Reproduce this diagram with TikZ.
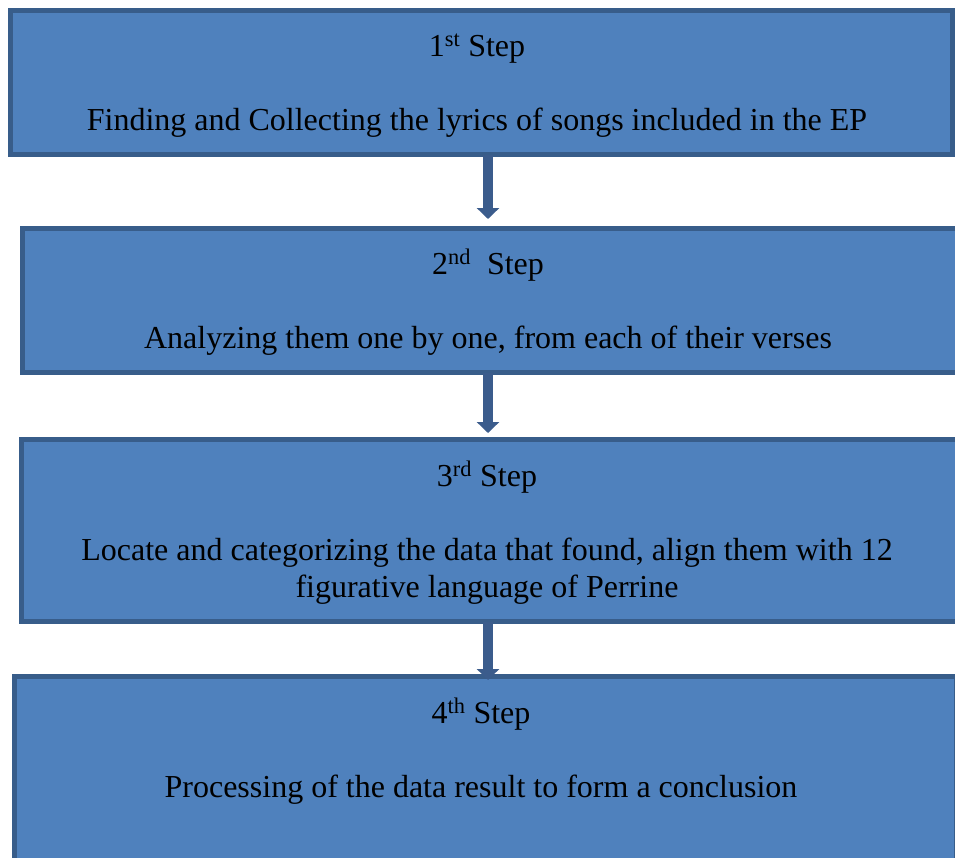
\documentclass[tikz,border=0pt]{standalone}
\usepackage{fontspec}
\setmainfont{Liberation Serif}
\usepackage{tikz}
\usetikzlibrary{arrows.meta, positioning}
\usepackage{xcolor}
\definecolor{stepfill}{HTML}{4F81BD}
\definecolor{stepborder}{HTML}{385D8A}
\definecolor{arrowblue}{HTML}{3B5C8C}

\begin{document}
\begin{tikzpicture}[
			x=1pt, y=-1pt,
			every node/.style={font=\fontsize{32}{37}\selectfont},
			stepbox/.style={draw=stepborder, line width=5pt, fill=stepfill, inner sep=0pt, outer sep=0pt},
			steptext/.style={align=center, inner sep=0pt, anchor=base},
			arrowstyle/.style={-{Triangle[width=22pt, length=11pt]}, line width=10pt, arrowblue}
		]
		\useasboundingbox (0,0) rectangle (955,857);
		\clip (0,0) rectangle (955,857);
		% boxes
		\node[stepbox, minimum width=942pt, minimum height=144pt] (s1) at (481.5,82.5) {};
		\node[stepbox, minimum width=942.5pt, minimum height=144pt] (s2) at (493.75,300.5) {};
		\node[stepbox, minimum width=944pt, minimum height=182pt] (s3) at (493,530.5) {};
		\node[stepbox, minimum width=941.5pt, minimum height=213.5pt] (s4) at (485.25,783.25) {};
		% texts (base = last line)
		\node[steptext] (t1) at (477,130) {1\textsuperscript{st} Step\\[37pt]
			Finding and Collecting the lyrics of songs included in the EP};
		\node[steptext] (t2) at (488,348) {2\textsuperscript{nd}\ \ Step\\[37pt]
			Analyzing them one by one, from each of their verses};
		\node[steptext] (t3) at (487,597) {3\textsuperscript{rd} Step\\[37pt]
			Locate and categorizing the data that found, align them with 12\\
			figurative language of Perrine};
		\node[steptext] (t4) at (481,797) {4\textsuperscript{th} Step\\[37pt]
			Processing of the data result to form a conclusion};
		% arrows
		\draw[arrowstyle, shorten >=9.5pt] (s1.south -| t2) -- (s2.north -| t2);
		\draw[arrowstyle, shorten >=6.5pt] (s2.south -| t2) -- (s3.north -| t2);
		\draw[arrowstyle, shorten >=-3.5pt] (s3.south -| t2) -- (s4.north -| t2);
	\end{tikzpicture}
\end{document}
